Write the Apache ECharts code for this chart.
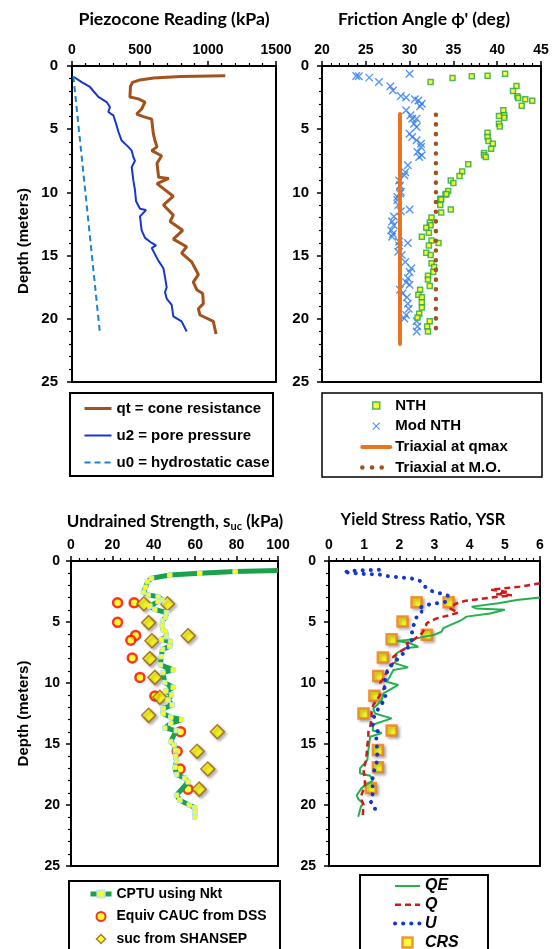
<!DOCTYPE html>
<html><head><meta charset="utf-8">
<script src="https://cdn.jsdelivr.net/npm/echarts@6/dist/echarts.min.js"></script>
<style>html,body{margin:0;padding:0;background:#fff}#c{width:552px;height:949px}</style>
</head><body><div id="c"></div>
<script>
// ---------- Panel 1: Piezocone reading (kPa) vs depth (m)
const qtDepth = [0.77,0.83,0.95,1.1,1.3,1.6,2.45,2.6,2.85,3.4,3.8,4.0,4.2,5.35,5.9,6.4,6.7,7.1,7.7,8.8,8.9,9.3,9.7,10.3,11.0,11.8,12.3,13.0,13.7,14.3,14.8,15.5,16.5,17.1,17.7,18.0,18.8,19.2,19.7,20.2,21.2];
const qtValue = [1127,800,600,500,445,430,426,488,537,512,475,525,586,598,610,625,586,659,625,637,711,625,672,745,672,745,721,814,745,843,806,880,929,892,917,961,966,929,941,1039,1059];
const u2Depth = [0.87,1.27,1.66,2.45,2.85,3.25,3.64,3.9,4.7,5.2,5.9,6.4,6.7,7.2,7.5,8.0,9.05,9.8,10.7,11.3,11.4,11.9,13.0,13.6,14.0,14.2,14.4,15.4,16.0,16.7,17.5,17.9,18.4,18.9,19.8,20.2,21.0];
const u2Value = [15,71,132,194,255,279,267,304,328,341,365,414,439,451,463,439,451,463,471,500,544,500,512,537,586,618,586,635,672,684,696,684,696,733,745,806,843];
const u0Depth = [0.8,21.2];
const u0Value = [10,206];

// ---------- Panel 2: Friction angle (deg) vs depth (m)
const nthAngle = [32.4,34.9,37.1,38.9,40.9,42.2,41.8,42.3,42.4,43.2,44.0,42.8,40.7,40.8,40.8,40.2,40.2,40.3,38.9,38.9,39.0,39.5,39.3,38.5,38.5,38.7,36.7,36.0,35.7,34.7,35.0,34.4,34.1,33.5,34.2,33.6,33.5,34.7,33.6,32.5,32.3,32.4,31.9,32.2,31.4,32.5,33.3,32.2,31.9,32.4,32.5,32.8,32.7,32.1,32.1,32.3,31.2,31.0,31.4,31.4,31.4,31.1,30.9,32.3,32.0,32.1];
const nthDepth = [1.27,0.95,0.82,0.77,0.61,1.58,1.98,2.4,2.53,2.64,2.74,3.14,3.5,3.9,4.1,3.96,4.56,4.78,5.28,5.62,5.94,6.15,6.54,6.89,7.07,7.2,7.78,8.34,8.71,9.05,9.26,9.89,10.16,10.5,10.13,10.56,11.0,11.35,11.6,11.98,12.4,12.6,12.8,13.2,13.5,13.8,14.0,14.2,14.78,14.96,15.6,15.9,16.3,16.6,16.9,17.4,17.7,18.1,18.3,18.7,19.1,19.6,19.9,20.2,20.6,21.0];
const modAngle = [23.9,24.2,25.4,26.5,27.8,28.1,29.0,29.6,30.0,30.6,31.0,31.4,31.2,29.6,30.1,30.3,30.8,30.5,30.8,30.0,30.3,30.8,31.3,31.3,30.9,31.1,31.4,29.8,29.5,29.4,28.8,28.9,29.0,28.6,28.9,28.6,28.7,29.0,30.0,28.2,28.0,28.2,27.9,28.1,28.0,28.8,29.8,28.8,28.7,29.1,29.5,30.2,30.0,29.8,29.6,30.0,28.9,29.2,29.7,29.8,29.9,29.6,29.4,30.8,30.9,30.8];
const modDepth = [0.79,0.82,0.92,1.27,1.6,1.93,2.37,2.5,0.61,2.64,2.72,2.98,3.19,3.5,3.9,4.17,4.17,4.56,4.83,5.36,5.62,5.88,6.15,6.41,6.81,7.2,7.07,7.86,8.4,8.65,9.05,9.45,9.97,10.37,10.08,10.6,11.0,11.5,11.35,11.9,12.3,12.6,13.0,13.3,13.5,13.9,14.0,14.2,14.7,14.96,15.5,16.0,16.3,16.8,17.1,17.3,17.7,18.0,18.3,18.8,19.2,19.7,19.97,20.2,20.6,21.0];
const qmaxAngle = [28.9,28.9];
const qmaxDepth = [3.8,22.0];
const moAngle = [33.0,33.0];
const moDepth = [3.85,21.4];

// ---------- Panel 3: Undrained strength (kPa) vs depth (m)
const cptuSu = [100,79.3,62.2,47.7,38.9,37.0,36.0,34.9,37.3,42.1,44.2,42.1,38.1,40.5,46.1,45.7,44.2,44.1,44.5,45.7,46.1,43.7,48.1,47.7,44.2,43.6,43.2,49.4,44.4,45.3,49.4,45.8,48.6,46.9,48.9,44.5,44.5,48.2,53.5,48.2,45.3,50.9,48.1,49.8,50.5,50.5,51.0,50.2,51.0,55.0,56.6,51.0,52.6,57.1,59.8,59.8,59.8];
const cptuDepth = [0.77,0.87,1.0,1.15,1.42,1.69,2.16,2.57,2.79,2.92,3.2,3.33,3.69,3.96,4.23,4.6,4.9,5.3,5.66,5.79,6.2,6.42,6.6,7.0,7.24,7.84,8.52,8.93,9.15,9.97,10.36,10.65,10.98,11.4,11.8,12.1,12.5,12.8,13.0,13.3,13.7,13.9,14.8,15.08,15.54,16.0,16.4,16.9,17.5,17.8,18.1,19.2,19.6,20.0,20.2,20.6,21.0];
const dssSu = [22.5,30.5,22.5,31.2,28.9,29.6,33.3,40.5,52.9,51.3,52.7,56.5];
const dssDepth = [3.42,3.42,5.03,6.1,6.5,7.95,9.54,11.07,13.99,15.6,17.05,18.7];
const shanSu = [35.2,46.6,37.5,56.6,39.1,38.1,40.5,42.9,37.5,70.7,60.9,66.1,61.9];
const shanDepth = [3.5,3.5,5.05,6.12,6.53,8.0,9.54,11.17,12.65,13.99,15.6,17.05,18.7];

// ---------- Panel 4: Yield stress ratio vs depth (m)
const qeYsr = [6.0,5.34,4.82,4.06,4.2,5.0,4.58,3.91,3.77,3.44,3.25,3.2,2.97,2.59,2.21,1.94,2.26,2.54,2.16,1.92,1.88,2.25,1.83,1.73,1.64,1.97,1.55,1.5,1.4,1.26,1.31,1.78,1.26,1.24,1.5,1.17,1.12,1.09,0.88,0.88,1.17,1.24,0.93,0.79,0.83,0.98,0.91,0.83];
const qeDepth = [3.0,3.2,3.47,3.74,3.9,4.0,4.3,4.56,4.84,5.25,5.5,5.8,6.07,6.28,6.48,6.56,6.7,7.02,7.16,7.57,8.39,8.72,8.93,9.48,9.9,10.16,10.85,11.4,11.7,12.1,12.5,12.9,13.4,13.9,14.1,14.4,15.5,16.3,17.0,17.4,17.6,18.0,18.6,19.2,19.5,19.9,20.1,20.96];
const qYsr = [6.0,5.43,4.6,5.1,4.75,5.2,3.9,3.6,3.44,3.68,3.44,3.06,2.78,2.73,2.64,2.4,2.21,2.26,2.02,1.83,1.83,1.69,1.59,1.45,1.59,1.45,1.26,1.21,1.21,1.17,1.12,1.12,1.09,1.07,1.05,0.98,1.02,1.02,0.93,0.93,0.98,0.96];
const qDepth = [1.83,2.1,2.35,2.55,2.7,2.8,3.25,3.5,3.88,4.23,4.43,4.7,5.1,5.52,5.93,6.48,6.75,7.02,7.43,7.84,8.39,8.66,9.48,10.0,10.3,11.0,11.8,12.4,12.9,13.6,14.0,14.5,15.1,15.8,16.4,17.1,17.9,18.5,19.1,19.6,20.0,20.9];
const uYsr = [1.42,0.9,0.4,0.9,1.42,1.64,1.88,2.11,2.35,2.59,2.73,2.92,3.16,3.38,3.35,3.06,2.78,2.54,2.64,2.49,2.47,2.35,2.37,2.35,2.26,2.16,2.02,1.83,1.69,1.64,1.57,1.61,1.47,1.34,1.26,1.24,1.4,1.34,1.36,1.38,1.24,1.24,1.18,1.31,1.3];
const uDepth = [0.72,0.76,0.9,1.05,1.1,1.23,1.3,1.37,1.43,1.64,2.1,2.46,2.65,2.84,3.33,3.47,3.6,3.88,4.15,4.56,4.97,5.52,6.07,6.48,7.02,7.43,7.84,8.39,8.8,9.2,10.1,11.3,11.8,12.4,12.9,13.4,14.0,14.4,14.95,16.3,17.6,19.1,19.7,20.2,20.8];
const crsYsr = [2.49,3.4,2.09,2.78,1.78,1.53,1.4,1.29,0.98,1.78,1.39,1.39,1.19];
const crsDepth = [3.39,3.39,4.95,6.04,6.42,7.9,9.43,11.04,12.5,13.9,15.5,16.9,18.6];

// ---------- ticks
const depthTicks = {min:0, max:25, interval:5};
const qcTicks = {min:0, max:1500, interval:500};
const phiTicks = {min:20, max:45, interval:5};
const suTicks = {min:0, max:100, interval:20};
const ysrTicks = {min:0, max:6, interval:1};

function zip(xs, ys){ return xs.map((x,i)=>[x, ys[i]]); }

const AX = 'Liberation Sans, Arial, sans-serif';
const TT = 'Lato, sans-serif';
const SQUARE = 'path://M0,0L10,0L10,10L0,10Z';
const DIAMOND = 'path://M5,0L10,5L5,10L0,5Z';
const NOSYM = {color:'rgba(0,0,0,0)', borderColor:'rgba(0,0,0,0)', borderWidth:0};

const grids = [
  {left:72, top:66, width:204, height:316},
  {left:322, top:66, width:219, height:316},
  {left:71, top:561, width:207, height:305},
  {left:329, top:561, width:211, height:305}
].map(g=>Object.assign({show:true, borderColor:'#000', borderWidth:2, backgroundColor:'rgba(0,0,0,0)'}, g));

function xAx(gi, t, fs, margin){
  return Object.assign({gridIndex:gi, type:'value', position:'top',
    axisLine:{show:true, onZero:false, lineStyle:{color:'#000', width:2}},
    axisTick:{show:true, inside:false, length:5, lineStyle:{color:'#000', width:1.5}},
    minorTick:{show:true, splitNumber:5, length:3, lineStyle:{color:'#000', width:1.2}},
    splitLine:{show:false}, minorSplitLine:{show:false},
    axisLabel:{fontFamily:AX, fontWeight:'bold', fontSize:fs, color:'#000', margin:margin, formatter:v=>String(v)}
  }, t);
}
function yAx(gi, fs, margin, name, gap, pad){
  const o = Object.assign({gridIndex:gi, type:'value', inverse:true,
    axisLine:{show:true, onZero:false, lineStyle:{color:'#000', width:2}},
    axisTick:{show:true, inside:false, length:5, lineStyle:{color:'#000', width:1.5}},
    minorTick:{show:true, splitNumber:5, length:3, lineStyle:{color:'#000', width:1.2}},
    splitLine:{show:false}, minorSplitLine:{show:false},
    axisLabel:{fontFamily:AX, fontWeight:'bold', fontSize:fs, color:'#000', margin:margin, formatter:v=>String(v)}
  }, depthTicks);
  if (name){
    o.name = name; o.nameLocation = 'middle'; o.nameGap = gap;
    o.nameTextStyle = {fontFamily:AX, fontWeight:'bold', fontSize:15, color:'#000', padding:pad};
  }
  return o;
}

const series = [
  {name:'qt = cone resistance', type:'line', xAxisIndex:0, yAxisIndex:0, data:zip(qtValue, qtDepth), symbol:'none',
   lineStyle:{color:'#A3521B', width:3}, itemStyle:{color:'#A3521B'}},
  {name:'u2 = pore pressure', type:'line', xAxisIndex:0, yAxisIndex:0, data:zip(u2Value, u2Depth), symbol:'none',
   lineStyle:{color:'#1537D0', width:2}, itemStyle:{color:'#1537D0'}},
  {name:'u0 = hydrostatic case', type:'line', xAxisIndex:0, yAxisIndex:0, data:zip(u0Value, u0Depth), symbol:'none',
   lineStyle:{color:'#1C80D4', width:2, type:[6,4]}, itemStyle:{color:'#1C80D4'}},

  {name:'Triaxial at qmax', type:'line', xAxisIndex:1, yAxisIndex:1, data:zip(qmaxAngle, qmaxDepth), symbol:'none',
   lineStyle:{color:'#E8741E', width:4, cap:'round'}, itemStyle:{color:'#E8741E'}},
  {name:'Triaxial at M.O.', type:'line', xAxisIndex:1, yAxisIndex:1, data:zip(moAngle, moDepth), symbol:'none',
   lineStyle:{color:'#A3521B', width:4.5, type:[0.1, 9.6], cap:'round'}, itemStyle:{color:'#A3521B'}},
  {name:'Mod NTH', type:'scatter', xAxisIndex:1, yAxisIndex:1, data:zip(modAngle, modDepth),
   symbol:'path://M0,0L10,10M10,0L0,10', symbolSize:7.5,
   itemStyle:{color:'rgba(0,0,0,0)', borderColor:'#2B7BF0', borderWidth:1.4}},
  {name:'NTH', type:'scatter', xAxisIndex:1, yAxisIndex:1, data:zip(nthAngle, nthDepth), symbol:'rect', symbolSize:5,
   itemStyle:{color:'#FFFF00', borderColor:'#22A84A', borderWidth:1.5}},

  {name:'CPTU using Nkt', type:'line', xAxisIndex:2, yAxisIndex:2,
   data:zip(cptuSu, cptuDepth).map((p,i)=> i===0 ? {value:p, symbol:'none'} : p),
   symbol:'rect', symbolSize:4.5, showAllSymbol:true,
   lineStyle:{color:'#1BA04C', width:5}, itemStyle:{color:'#FFFF00', borderColor:'#BFE6EE', borderWidth:1}},
  {name:'Equiv CAUC from DSS', type:'scatter', xAxisIndex:2, yAxisIndex:2, data:zip(dssSu, dssDepth), symbol:'circle', symbolSize:9,
   itemStyle:{color:'#FFFF00', borderColor:'#FF0000', borderWidth:2.5}},
  {name:'suc from SHANSEP', type:'scatter', xAxisIndex:2, yAxisIndex:2, data:zip(shanSu, shanDepth), symbol:'diamond', symbolSize:14,
   itemStyle:{color:'#FFFF00', borderColor:'#9A5B0C', borderWidth:1.5, shadowBlur:3, shadowColor:'rgba(0,0,0,0.35)', shadowOffsetX:2, shadowOffsetY:2}},

  {name:'QE', type:'line', xAxisIndex:3, yAxisIndex:3, data:zip(qeYsr, qeDepth), symbol:'none',
   lineStyle:{color:'#22B14C', width:2}, itemStyle:{color:'#22B14C'}},
  {name:'Q', type:'line', xAxisIndex:3, yAxisIndex:3, data:zip(qYsr, qDepth), symbol:'none',
   lineStyle:{color:'#D01A1A', width:2.5, type:[6,4]}, itemStyle:{color:'#D01A1A'}},
  {name:'U', type:'line', xAxisIndex:3, yAxisIndex:3, data:zip(uYsr, uDepth), symbol:'none',
   lineStyle:{color:'#1537D0', width:4, type:[0.1, 8], cap:'round'}, itemStyle:{color:'#1537D0'}},
  {name:'CRS', type:'scatter', xAxisIndex:3, yAxisIndex:3, data:zip(crsYsr, crsDepth), symbol:'rect', symbolSize:10,
   itemStyle:{color:'#FFFF00', borderColor:'#F07A18', borderWidth:2.5, shadowBlur:3, shadowColor:'rgba(0,0,0,0.35)', shadowOffsetX:2, shadowOffsetY:2}}
];
series.forEach(s=>{ s.animation=false; s.silent=true; });

const legTxt = (fs, italic)=>({fontFamily:AX, fontWeight:'bold', fontSize:fs, color:'#000', fontStyle: italic?'italic':'normal'});
const legBase = {orient:'vertical', padding:0, height:300, width:250, selectedMode:false};

const option = {
  backgroundColor:'#fff',
  animation:false,
  title:[
    {text:'Piezocone Reading (kPa)', left:169, top:5, textAlign:'center', textStyle:{fontFamily:TT, fontWeight:'bold', fontSize:17.7, color:'#000'}},
    {text:"Friction Angle \u03D5' (deg)", left:419, top:5, textAlign:'center', textStyle:{fontFamily:TT, fontWeight:'bold', fontSize:17.5, color:'#000'}},
    {text:'{a|Undrained Strength, s}{b|uc}{a| (kPa)}', left:170, top:507, textAlign:'center',
     textStyle:{rich:{a:{fontFamily:TT, fontWeight:'bold', fontSize:17, color:'#000', lineHeight:20},
                      b:{fontFamily:TT, fontWeight:'bold', fontSize:11, color:'#000', lineHeight:20, verticalAlign:'bottom', padding:[9,0,0,0]}}}},
    {text:'Yield Stress Ratio, YSR', left:418, top:507, textAlign:'center', textStyle:{fontFamily:TT, fontWeight:'bold', fontSize:16.4, color:'#000'}}
  ],
  grid: grids,
  xAxis:[xAx(0, qcTicks, 14, 9), xAx(1, phiTicks, 14, 9), xAx(2, suTicks, 14, 9), xAx(3, ysrTicks, 14, 9)],
  yAxis:[yAx(0, 15, 14, 'Depth (meters)', 41, [0,34,0,0]), yAx(1, 15, 13), yAx(2, 14, 11, 'Depth (meters)', 40, [0,0,0,0]), yAx(3, 14, 13)],
  legend:[
    Object.assign({left:83, top:401, itemWidth:27, itemHeight:14, itemGap:12, textStyle:legTxt(15),
     data:[{name:'qt = cone resistance', lineStyle:{width:3}, itemStyle:NOSYM},
           {name:'u2 = pore pressure', lineStyle:{width:2}, itemStyle:NOSYM},
           {name:'u0 = hydrostatic case', lineStyle:{width:2}, itemStyle:NOSYM}]}, legBase),
    Object.assign({left:360, top:398, itemWidth:28, itemHeight:7, itemGap:5.7, textStyle:legTxt(15),
     data:[{name:'NTH', icon:SQUARE, itemStyle:{borderWidth:1.5}},
           {name:'Mod NTH', itemStyle:{borderWidth:1.2}},
           {name:'Triaxial at qmax', lineStyle:{width:4}, itemStyle:NOSYM},
           {name:'Triaxial at M.O.', lineStyle:{width:4.5}, itemStyle:NOSYM}]}, legBase),
    Object.assign({left:88, top:887, itemWidth:21, itemHeight:9, itemGap:8.5, textStyle:legTxt(14),
     data:[{name:'CPTU using Nkt', lineStyle:{width:5}},
           {name:'Equiv CAUC from DSS', itemStyle:{borderWidth:2}},
           {name:'suc from SHANSEP', icon:DIAMOND, itemStyle:{borderWidth:1.5}}]}, legBase),
    Object.assign({left:393, top:878, itemWidth:25, itemHeight:10, itemGap:2.8, textStyle:legTxt(16, true),
     data:[{name:'QE', lineStyle:{width:2}, itemStyle:NOSYM},
           {name:'Q', lineStyle:{width:2.5}, itemStyle:NOSYM},
           {name:'U', lineStyle:{width:4}, itemStyle:NOSYM},
           {name:'CRS', icon:SQUARE, itemStyle:{borderWidth:2.5}}]}, legBase)
  ],
  graphic:[
    {type:'rect', shape:{x:70, y:393, width:203, height:83}, style:{fill:'none', stroke:'#000', lineWidth:2}, silent:true},
    {type:'rect', shape:{x:322, y:393, width:220, height:84}, style:{fill:'none', stroke:'#000', lineWidth:1.5}, silent:true},
    {type:'rect', shape:{x:69, y:881, width:211, height:80}, style:{fill:'none', stroke:'#000', lineWidth:2}, silent:true},
    {type:'rect', shape:{x:360, y:875, width:128, height:85}, style:{fill:'none', stroke:'#000', lineWidth:2}, silent:true}
  ],
  series: series
};

const chart = echarts.init(document.getElementById('c'), null, {renderer:'canvas'});
chart.setOption(option);
</script></body></html>
